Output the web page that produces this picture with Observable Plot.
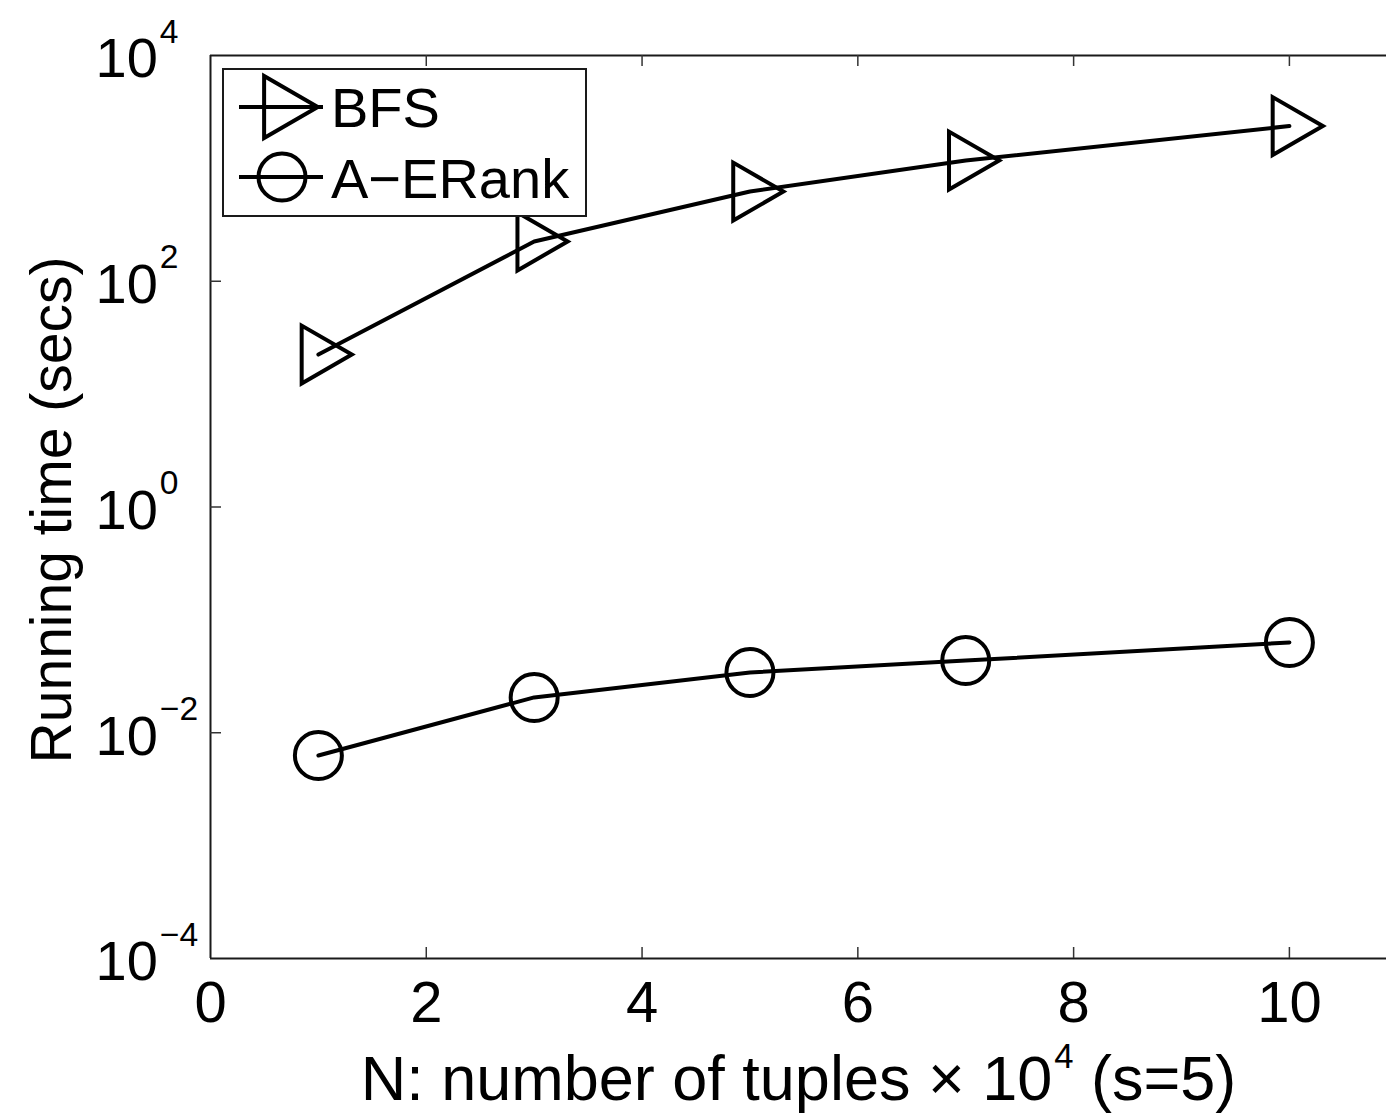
<!DOCTYPE html>
<html><head><meta charset="utf-8">
<script src="https://cdn.jsdelivr.net/npm/d3@7"></script>
<script src="https://cdn.jsdelivr.net/npm/@observablehq/plot@0.6"></script>
<style>
body{margin:0;background:#fff;}
#chart{position:relative;width:1386px;height:1117px;font-family:"Liberation Sans",Arial,Helvetica,sans-serif;overflow:hidden;}
#legend{position:absolute;left:222px;top:68px;}
</style></head><body><div id="chart"></div>
<script>
// ---- data ----
const seriesNames = ["BFS", "A\u2212ERank"];
const xValues = [1, 3, 5, 7, 10];
const bfsTimes = [22.4, 225, 623, 1172, 2371];
const aerankTimes = [0.00629, 0.02055, 0.0342, 0.0436, 0.0631];
const xTicks = [0, 2, 4, 6, 8, 10];
const yTicks = [1e-4, 1e-2, 1, 1e2, 1e4];
const yTickLabels = ["10^{\u22124}", "10^{\u22122}", "10^{0}", "10^{2}", "10^{4}"];
const xLabel = "N: number of tuples \u00d7 10^{4} (s=5)";
const yLabel = "Running time (secs)";

const data = [
  ...xValues.map((x, i) => ({series: seriesNames[0], x, y: bfsTimes[i]})),
  ...xValues.map((x, i) => ({series: seriesNames[1], x, y: aerankTimes[i]}))
];
const yTickData = yTicks.map((v, i) => ({v, label: yTickLabels[i]}));

// ---- layout ----
const W = 1386, H = 1117, mL = 210, mT = 55, mB = 159, mR = 0;
const fH = H - mT - mB, fW = W - mL - mR;
const tickFont = 56, xTickFont = 58, xLabelFont = 63, yLabelFont = 57;
const triR = 21.5, circR = 23.5;

const plot = Plot.plot({
  width: W, height: H,
  marginLeft: mL, marginTop: mT, marginBottom: mB, marginRight: mR,
  style: {fontFamily: "'Liberation Sans', Arial, Helvetica, sans-serif", background: "white", color: "black", overflow: "visible"},
  x: {domain: [0, 10.9], axis: null},
  y: {type: "log", domain: [1e-4, 1e4], axis: null},
  marks: [
    Plot.ruleX([0], {stroke: "#1a1a1a", strokeWidth: 2}),
    Plot.ruleY([1e-4, 1e4], {stroke: "#1a1a1a", strokeWidth: 2}),
    Plot.tickX(xTicks.filter(d => d > 0), {x: d => d, insetTop: fH - 11, stroke: "#333", strokeWidth: 1.5}),
    Plot.tickX(xTicks.filter(d => d > 0), {x: d => d, insetBottom: fH - 11, stroke: "#333", strokeWidth: 1.5}),
    Plot.tickY(yTicks.slice(1, -1), {y: d => d, insetRight: fW - 11, stroke: "#333", strokeWidth: 1.5}),
    Plot.text(xTicks, {x: d => d, text: d => String(d), frameAnchor: "bottom", lineAnchor: "middle", textAnchor: "middle", dy: 45, fontSize: xTickFont, fill: "black"}),
    Plot.text(yTickData, {y: "v", text: "label", frameAnchor: "left", textAnchor: "start", lineAnchor: "middle", dx: -115, dy: 4, fontSize: tickFont, fill: "black"}),
    Plot.text([xLabel], {frameAnchor: "bottom", lineAnchor: "middle", textAnchor: "middle", dy: 121, fontSize: xLabelFont, fill: "black"}),
    Plot.text([yLabel], {frameAnchor: "left", rotate: -90, textAnchor: "middle", lineAnchor: "middle", dx: -158, dy: 3, fontSize: yLabelFont, fill: "black"}),
    Plot.line(data, {x: "x", y: "y", z: "series", stroke: "black", strokeWidth: 4}),
    Plot.dot(data.filter(d => d.series === seriesNames[0]), {x: "x", y: "y", symbol: "triangle", rotate: 90, r: triR, stroke: "black", strokeWidth: 4, fill: "none"}),
    Plot.dot(data.filter(d => d.series === seriesNames[1]), {x: "x", y: "y", symbol: "circle", r: circR, stroke: "black", strokeWidth: 4, fill: "none"})
  ]
});
document.getElementById("chart").appendChild(plot);

// superscripts: "a^{b}c" -> tspans
function supify(root) {
  d3.select(root).selectAll("text").each(function () {
    const t = this.textContent;
    if (!t.includes("^{")) return;
    const fs = parseFloat(getComputedStyle(this).fontSize) || tickFont;
    const isLabel = fs >= xLabelFont;
    const rise = fs * (isLabel ? 0.5 : 0.62);
    const supScale = isLabel ? 0.55 : 0.6;
    const parts = t.split(/\^\{([^}]*)\}/);
    const el = d3.select(this);
    el.text("");
    let raised = false;
    parts.forEach((p, i) => {
      if (i % 2 === 1) {
        el.append("tspan").attr("font-size", fs * supScale).attr("dy", -rise).attr("dx", 2).text(p);
        raised = true;
      } else if (p) {
        const ts = el.append("tspan").text(p);
        if (raised) { ts.attr("dy", rise); raised = false; }
      }
    });
  });
}
supify(plot);

// legend
const leg = d3.select("#chart").append("svg").attr("id", "legend")
  .attr("width", 366).attr("height", 150)
  .style("font-family", "'Liberation Sans', Arial, Helvetica, sans-serif");
leg.append("rect").attr("x", 1).attr("y", 1).attr("width", 363).attr("height", 147)
  .attr("fill", "white").attr("stroke", "#1a1a1a").attr("stroke-width", 2);
const rows = [
  {name: seriesNames[0], cy: 39, base: 59, sym: d3.symbolTriangle, r: 23, rot: 90},
  {name: seriesNames[1], cy: 109, base: 130, sym: d3.symbolCircle, r: circR, rot: 0}
];
rows.forEach(row => {
  leg.append("line").attr("x1", 17).attr("x2", 101).attr("y1", row.cy).attr("y2", row.cy)
    .attr("stroke", "black").attr("stroke-width", 4);
  leg.append("path").attr("d", d3.symbol(row.sym, Math.PI * row.r * row.r)())
    .attr("transform", `translate(60,${row.cy}) rotate(${row.rot})`)
    .attr("fill", "none").attr("stroke", "black").attr("stroke-width", 4);
  leg.append("text").attr("x", 109).attr("y", row.base).attr("font-size", tickFont).attr("fill", "black").text(row.name);
});
</script>
</body></html>
